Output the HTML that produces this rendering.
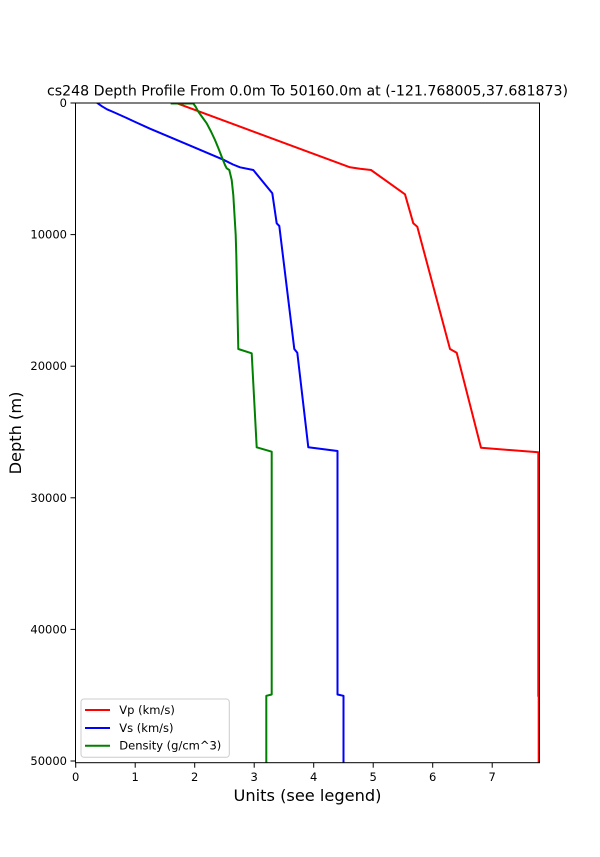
<!DOCTYPE html>
<html>
<head>
<meta charset="utf-8">
<style>
  html, body { margin: 0; padding: 0; background: #fff; }
  svg { display: block; }
  text { font-family: "DejaVu Sans", "Liberation Sans", sans-serif; fill: #000; }
</style>
</head>
<body>
<svg width="600" height="857" viewBox="0 0 600 857" xmlns="http://www.w3.org/2000/svg">
  <rect x="0" y="0" width="600" height="857" fill="#fff"/>
  <defs>
    <clipPath id="ax">
      <rect x="75.5" y="103" width="464" height="659.7"/>
    </clipPath>
  </defs>

  <!-- Title -->
  <text x="307.5" y="95.5" font-size="13.9" text-anchor="middle" textLength="521" lengthAdjust="spacingAndGlyphs">cs248 Depth Profile From 0.0m To 50160.0m at (-121.768005,37.681873)</text>

  <!-- Series -->
  <g clip-path="url(#ax)" fill="none" stroke-width="2" stroke-linejoin="round" stroke-linecap="square">
    <!-- Vp -->
    <path stroke="#ff0000" d="M177.3,103.4 L350,167.3 L360,168.8 L371,170 L405,194.3 L413.3,223.3 L417.3,226.7 L450,349 L456.7,352.7 L481,447.7 L538.3,452.3 L538.3,696 L538.7,697 L538.7,765"/>
    <!-- Vs -->
    <path stroke="#0000ff" d="M97.7,103.3 L102,106.3 L107,109.3 L113.3,112 L120,115 L126.7,118 L135,121.9 L150,128.7 L190,145.6 L223.3,159.7 L233,164.5 L240,167.3 L253.3,170 L272.3,193.3 L276.7,223.3 L279.3,226 L294.3,349 L297.3,352.7 L308.3,447.3 L337.5,451 L337.5,694.5 L343.5,695.8 L343.5,765"/>
    <!-- Density -->
    <path stroke="#008000" d="M171.7,103.5 L193.3,103.5 L195.5,106.5 L198.3,111.7 L202.5,117.5 L206.7,123.3 L211,131.5 L215,140 L218.5,148.5 L221.7,156.7 L225,165 L226.7,168.3 L229.3,170 L230.5,175 L231.7,180 L233.3,195 L235.7,235 L236.3,255 L238.3,349 L251.7,353.3 L256.7,447.3 L271.7,451.7 L271.7,694.5 L266.3,695.8 L266.3,765"/>
  </g>

  <!-- Spines -->
  <rect x="75.5" y="103" width="464" height="659.7" fill="none" stroke="#000" stroke-width="1"/>

  <!-- Y ticks -->
  <g stroke="#000" stroke-width="1">
    <line x1="70.5" y1="103" x2="75.5" y2="103"/>
    <line x1="70.5" y1="234.6" x2="75.5" y2="234.6"/>
    <line x1="70.5" y1="366.2" x2="75.5" y2="366.2"/>
    <line x1="70.5" y1="497.8" x2="75.5" y2="497.8"/>
    <line x1="70.5" y1="629.4" x2="75.5" y2="629.4"/>
    <line x1="70.5" y1="761" x2="75.5" y2="761"/>
  </g>
  <g font-size="11.5" text-anchor="end">
    <text x="67" y="107">0</text>
    <text x="67" y="238.6">10000</text>
    <text x="67" y="370.2">20000</text>
    <text x="67" y="501.8">30000</text>
    <text x="67" y="633.4">40000</text>
    <text x="67" y="765">50000</text>
  </g>

  <!-- X ticks -->
  <g stroke="#000" stroke-width="1">
    <line x1="75.7" y1="762.7" x2="75.7" y2="767.7"/>
    <line x1="135.2" y1="762.7" x2="135.2" y2="767.7"/>
    <line x1="194.7" y1="762.7" x2="194.7" y2="767.7"/>
    <line x1="254.2" y1="762.7" x2="254.2" y2="767.7"/>
    <line x1="313.7" y1="762.7" x2="313.7" y2="767.7"/>
    <line x1="373.2" y1="762.7" x2="373.2" y2="767.7"/>
    <line x1="432.7" y1="762.7" x2="432.7" y2="767.7"/>
    <line x1="492.2" y1="762.7" x2="492.2" y2="767.7"/>
  </g>
  <g font-size="11.5" text-anchor="middle">
    <text x="75.7" y="780.8">0</text>
    <text x="135.2" y="780.8">1</text>
    <text x="194.7" y="780.8">2</text>
    <text x="254.2" y="780.8">3</text>
    <text x="313.7" y="780.8">4</text>
    <text x="373.2" y="780.8">5</text>
    <text x="432.7" y="780.8">6</text>
    <text x="492.2" y="780.8">7</text>
  </g>

  <!-- Axis labels -->
  <text x="307.5" y="801" font-size="16.2" text-anchor="middle">Units (see legend)</text>
  <text x="0" y="0" font-size="16.2" text-anchor="middle" transform="translate(21,433) rotate(-90)">Depth (m)</text>

  <!-- Legend -->
  <rect x="81" y="699" width="148.3" height="58.3" rx="3" ry="3" fill="#fff" fill-opacity="0.8" stroke="#cccccc" stroke-width="1"/>
  <g stroke-width="2">
    <line x1="85" y1="710" x2="110" y2="710" stroke="#ff0000"/>
    <line x1="85" y1="728" x2="110" y2="728" stroke="#0000ff"/>
    <line x1="85" y1="745.7" x2="110" y2="745.7" stroke="#008000"/>
  </g>
  <g font-size="11.5">
    <text x="119.3" y="714">Vp (km/s)</text>
    <text x="119.3" y="732">Vs (km/s)</text>
    <text x="119.3" y="749.7">Density (g/cm^3)</text>
  </g>
</svg>
</body>
</html>
